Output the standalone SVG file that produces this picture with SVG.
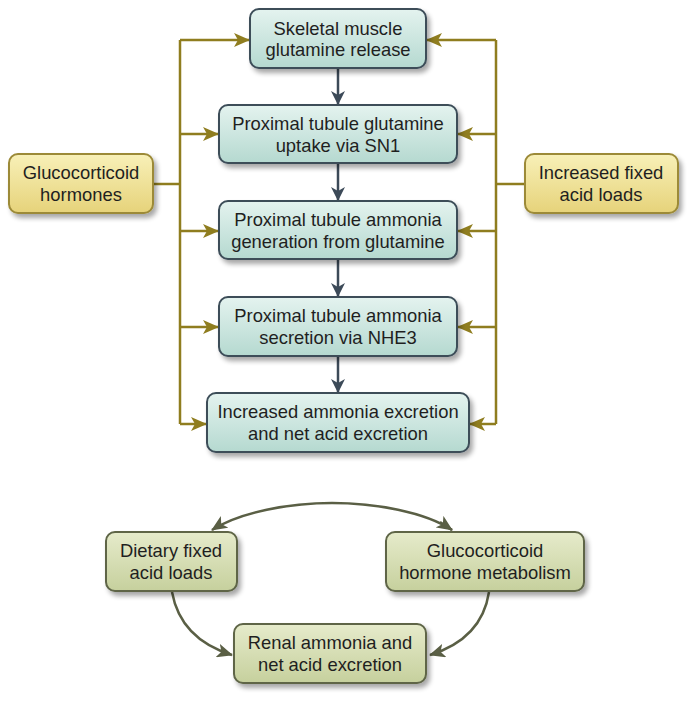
<svg xmlns="http://www.w3.org/2000/svg" width="697" height="703" viewBox="0 0 697 703">
<defs>
<linearGradient id="gTeal" x1="0" y1="0" x2="0" y2="1"><stop offset="0" stop-color="#e4f3ef"/><stop offset="1" stop-color="#b5d9d0"/></linearGradient>
<linearGradient id="gGold" x1="0" y1="0" x2="0" y2="1"><stop offset="0" stop-color="#f8f0b8"/><stop offset="1" stop-color="#e6d37a"/></linearGradient>
<linearGradient id="gGreen" x1="0" y1="0" x2="0" y2="1"><stop offset="0" stop-color="#e6ebcb"/><stop offset="1" stop-color="#c6d09d"/></linearGradient>
<filter id="sh" x="-10%" y="-10%" width="125%" height="135%"><feGaussianBlur in="SourceAlpha" stdDeviation="2.5"/><feOffset dx="3" dy="4" result="b"/><feComponentTransfer><feFuncA type="linear" slope="0.35"/></feComponentTransfer><feMerge><feMergeNode/><feMergeNode in="SourceGraphic"/></feMerge></filter>
<marker id="aGold" viewBox="0 0 16 14" refX="15" refY="7" markerWidth="16" markerHeight="14" markerUnits="userSpaceOnUse" orient="auto"><path d="M0,0 L16,7 L0,14 L4,7 z" fill="#8f7d1f"/></marker>
<marker id="aDark" viewBox="0 0 14 14" refX="13" refY="7" markerWidth="14" markerHeight="14" markerUnits="userSpaceOnUse" orient="auto"><path d="M0,0 L14,7 L0,14 L4,7 z" fill="#3c4a58"/></marker>
<marker id="aOlive" viewBox="0 0 16 14" refX="15" refY="7" markerWidth="16" markerHeight="14" markerUnits="userSpaceOnUse" orient="auto"><path d="M0,0 L16,7 L0,14 L4,7 z" fill="#5a5f45"/></marker>
</defs>
<style>
text{font-family:"Liberation Sans",Arial,sans-serif;font-size:18.4px;fill:#1f1f1f;text-anchor:middle}
.teal{fill:url(#gTeal);stroke:#3c4d59;stroke-width:2;filter:url(#sh)}
.gold{fill:url(#gGold);stroke:#9c8a38;stroke-width:2;filter:url(#sh)}
.green{fill:url(#gGreen);stroke:#5e6547;stroke-width:2;filter:url(#sh)}
.lg{fill:none;stroke:#8f7d1f;stroke-width:2.5}
.ld{fill:none;stroke:#3c4a58;stroke-width:2.5}
.lo{fill:none;stroke:#5a5f45;stroke-width:2.5}
</style>
<rect width="697" height="703" fill="#ffffff"/>
<g id="connectors">
<path class="lg" d="M153,184 H180"/>
<path class="lg" d="M180,424 V40"/>
<path class="lg" d="M180,40 H249" marker-end="url(#aGold)"/>
<path class="lg" d="M180,134 H218" marker-end="url(#aGold)"/>
<path class="lg" d="M180,231 H218" marker-end="url(#aGold)"/>
<path class="lg" d="M180,327 H218" marker-end="url(#aGold)"/>
<path class="lg" d="M180,424 H206" marker-end="url(#aGold)"/>
<path class="lg" d="M525,184 H496"/>
<path class="lg" d="M496,424 V40"/>
<path class="lg" d="M496,40 H427" marker-end="url(#aGold)"/>
<path class="lg" d="M496,134 H458" marker-end="url(#aGold)"/>
<path class="lg" d="M496,231 H458" marker-end="url(#aGold)"/>
<path class="lg" d="M496,327 H458" marker-end="url(#aGold)"/>
<path class="lg" d="M496,424 H470" marker-end="url(#aGold)"/>
<path class="ld" d="M338,68 V104" marker-end="url(#aDark)"/>
<path class="ld" d="M338,163 V200" marker-end="url(#aDark)"/>
<path class="ld" d="M338,259 V296" marker-end="url(#aDark)"/>
<path class="ld" d="M338,356 V392" marker-end="url(#aDark)"/>
<path class="lo" d="M332,503 C290,503 240,512 212,530" marker-end="url(#aOlive)"/>
<path class="lo" d="M332,503 C375,503 425,512 452,530"/>
<path class="lo" d="M440,522 L452,530" marker-end="url(#aOlive)"/>
<path class="lo" d="M172,592 C178,625 200,645 232,655" marker-end="url(#aOlive)"/>
<path class="lo" d="M489,592 C484,625 462,645 430,655" marker-end="url(#aOlive)"/>
</g>
<g id="skeletal"><rect class="teal" x="250" y="9" width="176" height="59" rx="9"/><text x="338" y="35">Skeletal muscle</text><text x="338" y="56">glutamine release</text></g>
<g id="uptake"><rect class="teal" x="219" y="105" width="238" height="58" rx="9"/><text x="338" y="130">Proximal tubule glutamine</text><text x="338" y="152">uptake via SN1</text></g>
<g id="generation"><rect class="teal" x="219" y="201" width="238" height="58" rx="9"/><text x="338" y="226">Proximal tubule ammonia</text><text x="338" y="248">generation from glutamine</text></g>
<g id="secretion"><rect class="teal" x="219" y="297" width="238" height="59" rx="9"/><text x="338" y="322">Proximal tubule ammonia</text><text x="338" y="344">secretion via NHE3</text></g>
<g id="excretion"><rect class="teal" x="207" y="393" width="262" height="59" rx="9"/><text x="338" y="418">Increased ammonia excretion</text><text x="338" y="440">and net acid excretion</text></g>
<g id="gluco"><rect class="gold" x="9" y="154" width="144" height="59" rx="9"/><text x="81" y="179">Glucocorticoid</text><text x="81" y="201">hormones</text></g>
<g id="acid"><rect class="gold" x="525" y="154" width="153" height="59" rx="9"/><text x="601" y="179">Increased fixed</text><text x="601" y="201">acid loads</text></g>
<g id="dietary"><rect class="green" x="106" y="532" width="131" height="59" rx="9"/><text x="171" y="557">Dietary fixed</text><text x="171" y="579">acid loads</text></g>
<g id="metabolism"><rect class="green" x="386" y="532" width="198" height="59" rx="9"/><text x="485" y="557">Glucocorticoid</text><text x="485" y="579">hormone metabolism</text></g>
<g id="renal"><rect class="green" x="234" y="624" width="192" height="59" rx="9"/><text x="330" y="649">Renal ammonia and</text><text x="330" y="671">net acid excretion</text></g>
</svg>
